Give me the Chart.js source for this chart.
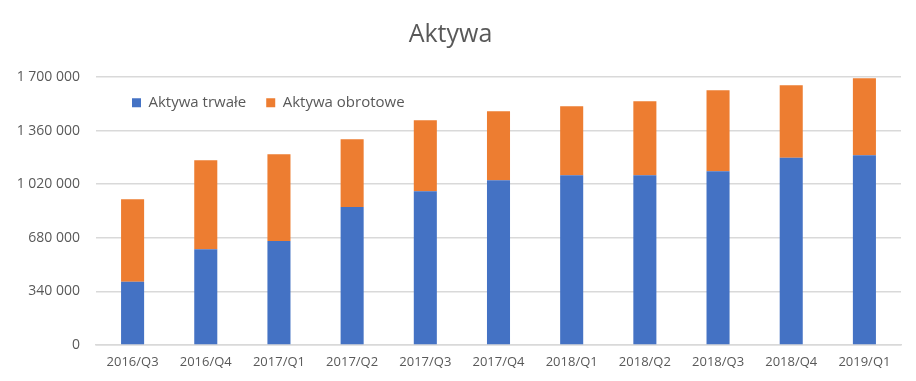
<!DOCTYPE html>
<html>
<head>
<meta charset="utf-8">
<script src="https://cdn.jsdelivr.net/npm/chart.js@4/dist/chart.umd.min.js"></script>
<style>
  html, body { margin: 0; padding: 0; background: #ffffff; }
  #wrap { width: 916px; height: 381px; position: relative; }
</style>
</head>
<body>
<div id="wrap"><canvas id="c" width="916" height="381"></canvas></div>
<script>
const categories = ['2016/Q3','2016/Q4','2017/Q1','2017/Q2','2017/Q3','2017/Q4','2018/Q1','2018/Q2','2018/Q3','2018/Q4','2019/Q1'];
const aktywaTrwale = [401000, 608000, 659000, 876000, 976000, 1045000, 1077000, 1077000, 1102000, 1187000, 1204000];
const aktywaObrotowe = [524000, 564000, 551000, 429000, 450000, 438000, 437000, 469000, 514000, 460000, 488000];
const yTicks = [0, 340000, 680000, 1020000, 1360000, 1700000];

const FONT = "'Open Sans', 'Liberation Sans', sans-serif";
const TXT = '#595959';

function fmt(v) {
  return String(Math.round(v)).replace(/\B(?=(\d{3})+(?!\d))/g, ' ');
}

const legendShift = {
  id: 'legendShift',
  afterLayout(chart) {
    const lg = chart.legend;
    if (!lg) return;
    const w = lg.right - lg.left;
    lg.left = 112; lg.right = lg.left + w;
    lg.top = 75.3; lg.bottom = lg.top + 60;
  }
};

new Chart(document.getElementById('c'), {
  type: 'bar',
  data: {
    labels: categories,
    datasets: [
      { label: 'Aktywa trwałe', data: aktywaTrwale, backgroundColor: '#4472C4', barPercentage: 0.315, categoryPercentage: 1 },
      { label: 'Aktywa obrotowe', data: aktywaObrotowe, backgroundColor: '#ED7D31', barPercentage: 0.315, categoryPercentage: 1 }
    ]
  },
  options: {
    responsive: false,
    animation: false,
    devicePixelRatio: 1,
    layout: { padding: { left: 0, right: 15, top: 0, bottom: 0 } },
    plugins: {
      title: {
        display: true,
        text: 'Aktywa',
        color: TXT,
        font: { family: FONT, size: 25, weight: 'normal' },
        padding: { top: 20, bottom: 26 }
      },
      legend: {
        display: true,
        position: 'top',
        align: 'start',
        maxHeight: 1,
        labels: {
          color: TXT,
          font: { family: FONT, size: 15 },
          boxWidth: 9,
          boxHeight: 9,
          padding: 20
        }
      },
      tooltip: { enabled: false }
    },
    scales: {
      x: {
        stacked: true,
        grid: { display: false, drawTicks: false },
        border: { display: true, color: '#d9d9d9', width: 1.5 },
        ticks: { color: TXT, font: { family: FONT, size: 13 }, padding: 9, maxRotation: 0, autoSkip: false },
        afterFit(scale) { scale.height = 36; }
      },
      y: {
        stacked: true,
        min: 0,
        max: 1700000,
        afterBuildTicks(scale) { scale.ticks = yTicks.map(v => ({ value: v })); },
        grid: { color: '#d9d9d9', lineWidth: 1.5, drawTicks: false },
        border: { display: false },
        ticks: { color: TXT, font: { family: FONT, size: 14 }, padding: 16, callback: (v) => fmt(v) },
        afterFit(scale) { scale.width = 96; }
      }
    }
  },
  plugins: [legendShift]
});
</script>
</body>
</html>
